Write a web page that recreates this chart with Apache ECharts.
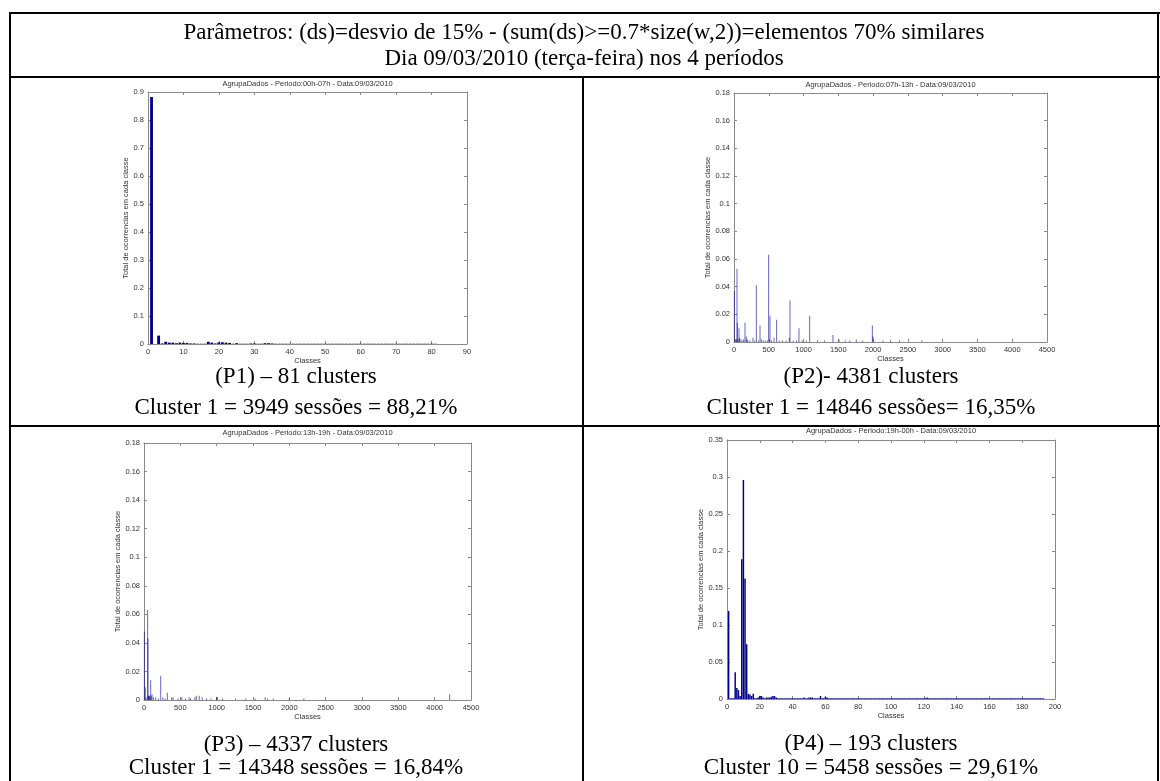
<!DOCTYPE html>
<html>
<head>
<meta charset="utf-8">
<script src="https://cdn.jsdelivr.net/npm/echarts@6/dist/echarts.min.js"></script>
<style>
html,body{margin:0;padding:0;background:#fff;}
#chart{width:1160px;height:781px;}
</style>
</head>
<body>
<div id="chart"></div>
<script>
// ---------- texts ----------
const headerLines = [
  "Parâmetros: (ds)=desvio de 15% - (sum(ds)>=0.7*size(w,2))=elementos 70% similares",
  "Dia 09/03/2010 (terça-feira) nos 4 períodos"
];
const chartTitles = [
  "AgrupaDados - Periodo:00h-07h - Data:09/03/2010",
  "AgrupaDados - Periodo:07h-13h - Data:09/03/2010",
  "AgrupaDados - Periodo:13h-19h - Data:09/03/2010",
  "AgrupaDados - Periodo:19h-00h - Data:09/03/2010"
];
const captionLines1 = ["(P1) – 81 clusters", "(P2)- 4381 clusters", "(P3) – 4337 clusters", "(P4) – 193 clusters"];
const captionLines2 = ["Cluster 1 = 3949 sessões = 88,21%", "Cluster 1 = 14846 sessões= 16,35%", "Cluster 1 = 14348 sessões = 16,84%", "Cluster 10 = 5458 sessões = 29,61%"];
const xAxisName = "Classes";
const yAxisName = "Total de ocorrencias em cada classe";

// ---------- axis ranges ----------
const xMax = [90, 4500, 4500, 200];
const xStep = [10, 500, 500, 20];
const yMax = [0.9, 0.18, 0.18, 0.35];
const yStep = [0.1, 0.02, 0.02, 0.05];

// ---------- data ----------
// P1: share of sessions for classes 1..81
const p1Values = [
  0.882, 0.000, 0.030, 0.002, 0.008, 0.005, 0.005, 0.003, 0.005, 0.004,
  0.004, 0.002, 0.002, 0.001, 0.001, 0.001, 0.008, 0.005, 0.002, 0.006,
  0.006, 0.005, 0.004, 0.001, 0.003, 0.001, 0.001, 0.001, 0.002, 0.002,
  0.001, 0.001, 0.003, 0.003, 0.002, 0.001, 0.001, 0.001, 0.001, 0.001,
  0.001, 0.001, 0.001, 0.001, 0.001, 0.001, 0.001, 0.001, 0.001, 0.001,
  0.001, 0.001, 0.001, 0.001, 0.001, 0.001, 0.001, 0.001, 0.001, 0.001,
  0.001, 0.001, 0.001, 0.001, 0.001, 0.001, 0.001, 0.001, 0.001, 0.001,
  0.001, 0.001, 0.001, 0.001, 0.001, 0.001, 0.001, 0.001, 0.001, 0.001,
  0.001
];
// P2: visible classes [class, share] out of 4381
const p2Classes = [5, 20, 35, 43, 48, 60, 72, 80, 100, 120, 140, 158, 177, 187, 200, 230, 273, 300, 321, 350, 374, 393, 420, 450, 480, 498, 517, 540, 575, 613, 650, 700, 750, 795, 805, 850, 900, 934, 980, 1040, 1088, 1200, 1300, 1423, 1509, 1600, 1663, 1758, 1850, 1989, 1998, 2142, 2250, 2380, 2700];
const p2Values  = [0.037, 0.002, 0.002, 0.053, 0.014, 0.002, 0.010, 0.003, 0.002, 0.001, 0.002, 0.014, 0.004, 0.002, 0.001, 0.001, 0.003, 0.001, 0.041, 0.001, 0.012, 0.002, 0.001, 0.001, 0.001, 0.063, 0.019, 0.001, 0.003, 0.016, 0.001, 0.001, 0.001, 0.003, 0.030, 0.001, 0.001, 0.010, 0.001, 0.001, 0.019, 0.001, 0.001, 0.005, 0.002, 0.001, 0.001, 0.002, 0.001, 0.012, 0.004, 0.001, 0.001, 0.001, 0.001];
// P3: visible classes [class, share] out of 4337
const p3Classes = [5, 18, 30, 50, 55, 62, 68, 75, 82, 92, 100, 110, 130, 160, 200, 230, 260, 290, 321, 380, 400, 470, 520, 570, 620, 640, 700, 720, 760, 800, 860, 920, 1000, 1010, 1080, 1260, 1400, 1530, 1667, 1700, 1780, 2000, 2200, 4206];
const p3Values  = [0.048, 0.009, 0.002, 0.063, 0.043, 0.003, 0.003, 0.003, 0.002, 0.014, 0.003, 0.004, 0.002, 0.002, 0.001, 0.017, 0.002, 0.001, 0.005, 0.002, 0.002, 0.001, 0.002, 0.001, 0.002, 0.001, 0.002, 0.003, 0.003, 0.002, 0.001, 0.001, 0.002, 0.002, 0.001, 0.001, 0.001, 0.001, 0.002, 0.001, 0.001, 0.001, 0.001, 0.004];
// P4: share of sessions for classes 1..193
const p4Values = [
  0.119, 0.001, 0.001, 0.001, 0.036, 0.015, 0.012, 0.004, 0.189, 0.296,
  0.163, 0.074, 0.007, 0.006, 0.004, 0.007, 0.001, 0.001, 0.002, 0.004,
  0.004, 0.002, 0.001, 0.002, 0.002, 0.002, 0.003, 0.004, 0.004, 0.002,
  0.001, 0.001, 0.001, 0.001, 0.001, 0.001, 0.001, 0.001, 0.001, 0.001,
  0.001, 0.001, 0.001, 0.001, 0.001, 0.001, 0.002, 0.001, 0.001, 0.002,
  0.002, 0.002, 0.001, 0.001, 0.001, 0.001, 0.004, 0.001, 0.001, 0.003,
  0.002, 0.001, 0.001, 0.001, 0.001, 0.001, 0.001, 0.001, 0.001, 0.001,
  0.001, 0.001, 0.001, 0.001, 0.001, 0.001, 0.001, 0.001, 0.001, 0.001,
  0.001, 0.001, 0.001, 0.001, 0.001, 0.001, 0.001, 0.001, 0.001, 0.001,
  0.001, 0.001, 0.001, 0.001, 0.001, 0.001, 0.001, 0.001, 0.001, 0.001,
  0.001, 0.001, 0.001, 0.001, 0.001, 0.001, 0.001, 0.001, 0.001, 0.001,
  0.001, 0.001, 0.001, 0.001, 0.001, 0.001, 0.001, 0.001, 0.001, 0.001,
  0.001, 0.002, 0.001, 0.001, 0.001, 0.001, 0.001, 0.001, 0.001, 0.001,
  0.001, 0.001, 0.001, 0.001, 0.001, 0.001, 0.001, 0.001, 0.001, 0.001,
  0.001, 0.001, 0.001, 0.001, 0.001, 0.001, 0.001, 0.001, 0.001, 0.001,
  0.001, 0.001, 0.001, 0.001, 0.001, 0.001, 0.001, 0.001, 0.001, 0.001,
  0.001, 0.001, 0.001, 0.001, 0.001, 0.001, 0.001, 0.001, 0.001, 0.001,
  0.001, 0.001, 0.001, 0.001, 0.001, 0.001, 0.001, 0.001, 0.001, 0.001,
  0.001, 0.001, 0.001, 0.001, 0.001, 0.001, 0.001, 0.001, 0.001, 0.001,
  0.001, 0.001, 0.001
];

// ---------- layout ----------
const grids = [
  {left: 148, top: 92, width: 319, height: 252},
  {left: 734, top: 93, width: 313, height: 249},
  {left: 144, top: 443, width: 327, height: 257},
  {left: 727, top: 440, width: 328, height: 259}
];
const titleY = [84, 85, 433, 431];
const capCenterX = [296, 871, 296, 871];
const cap1Y = [377, 377, 745, 744];
const cap2Y = [408, 408, 768, 768];
const yNameGap = [17, 21, 22, 21];

const BAR = '#00008b';
const AXIS = '#8a8a8a';
const LABEL = '#333';
const SANS = 'Liberation Sans, Arial, sans-serif';
const SERIF = 'Liberation Serif, Times New Roman, serif';
const SERIF_SIZE = 23;

const seriesData = [
  p1Values.map((v, i) => [i + 1, v]),
  p2Classes.map((c, i) => [c, p2Values[i]]),
  p3Classes.map((c, i) => [c, p3Values[i]]),
  p4Values.map((v, i) => [i + 1, v])
];
const barWidths = ['80%', 1, 1, '90%'];
const barOpacity = [1, 0.6, 0.6, 1];

const fmt = v => {
  const r = Math.round(v * 1000) / 1000;
  return String(r);
};

const xAxes = [], yAxes = [], series = [];
grids.forEach((g, i) => {
  xAxes.push({
    type: 'value', gridIndex: i, position: 'bottom', min: 0, max: xMax[i], interval: xStep[i],
    name: xAxisName, nameLocation: 'middle', nameGap: 13,
    nameTextStyle: {fontFamily: SANS, fontSize: 7.5, color: LABEL},
    axisLine: {show: true, onZero: false, lineStyle: {color: AXIS, width: 1}},
    axisTick: {show: true, inside: true, length: 3, lineStyle: {color: AXIS}},
    axisLabel: {fontFamily: SANS, fontSize: 7.5, color: LABEL, margin: 4, formatter: fmt},
    splitLine: {show: false}
  });
  xAxes.push({
    type: 'value', gridIndex: i, position: 'top', min: 0, max: xMax[i], interval: xStep[i],
    axisLine: {show: true, onZero: false, lineStyle: {color: AXIS, width: 1}},
    axisTick: {show: true, inside: true, length: 3, lineStyle: {color: AXIS}},
    axisLabel: {show: false}, splitLine: {show: false}
  });
  yAxes.push({
    type: 'value', gridIndex: i, position: 'left', min: 0, max: yMax[i], interval: yStep[i],
    name: yAxisName, nameLocation: 'middle', nameGap: yNameGap[i], nameRotate: 90,
    nameTextStyle: {fontFamily: SANS, fontSize: 7.5, color: LABEL},
    axisLine: {show: true, onZero: false, lineStyle: {color: AXIS, width: 1}},
    axisTick: {show: true, inside: true, length: 3, lineStyle: {color: AXIS}},
    axisLabel: {fontFamily: SANS, fontSize: 7.5, color: LABEL, margin: 4, formatter: fmt},
    splitLine: {show: false}
  });
  yAxes.push({
    type: 'value', gridIndex: i, position: 'right', min: 0, max: yMax[i], interval: yStep[i],
    axisLine: {show: true, onZero: false, lineStyle: {color: AXIS, width: 1}},
    axisTick: {show: true, inside: true, length: 3, lineStyle: {color: AXIS}},
    axisLabel: {show: false}, splitLine: {show: false}
  });
  series.push({
    type: 'bar', xAxisIndex: 2 * i, yAxisIndex: 2 * i,
    data: seriesData[i], barWidth: barWidths[i], barGap: '-100%',
    itemStyle: {color: BAR, opacity: barOpacity[i]},
    silent: true, animation: false
  });
});

// ---------- graphics: table lines + texts ----------
const LINE = {stroke: '#000', lineWidth: 2};
const graphics = [
  {type: 'line', shape: {x1: 10, y1: 13, x2: 1160, y2: 13}, style: LINE},
  {type: 'line', shape: {x1: 10, y1: 77, x2: 1160, y2: 77}, style: LINE},
  {type: 'line', shape: {x1: 10, y1: 426, x2: 1160, y2: 426}, style: LINE},
  {type: 'line', shape: {x1: 10, y1: 12, x2: 10, y2: 781}, style: LINE},
  {type: 'line', shape: {x1: 1158, y1: 12, x2: 1158, y2: 781}, style: LINE},
  {type: 'line', shape: {x1: 583, y1: 77, x2: 583, y2: 781}, style: LINE}
];
headerLines.forEach((t, i) => {
  graphics.push({type: 'text', x: 584, y: [33, 59][i],
    style: {text: t, font: SERIF_SIZE + 'px ' + SERIF, fill: '#000', textAlign: 'center', textVerticalAlign: 'middle'}});
});
grids.forEach((g, i) => {
  graphics.push({type: 'text', x: g.left + g.width / 2, y: titleY[i],
    style: {text: chartTitles[i], font: '7.5px ' + SANS, fill: LABEL, textAlign: 'center', textVerticalAlign: 'middle'}});
  graphics.push({type: 'text', x: capCenterX[i], y: cap1Y[i],
    style: {text: captionLines1[i], font: SERIF_SIZE + 'px ' + SERIF, fill: '#000', textAlign: 'center', textVerticalAlign: 'middle'}});
  graphics.push({type: 'text', x: capCenterX[i], y: cap2Y[i],
    style: {text: captionLines2[i], font: SERIF_SIZE + 'px ' + SERIF, fill: '#000', textAlign: 'center', textVerticalAlign: 'middle'}});
});

const chart = echarts.init(document.getElementById('chart'), null, {renderer: 'canvas'});
chart.setOption({
  animation: false,
  backgroundColor: '#fff',
  grid: grids.map(g => Object.assign({containLabel: false}, g)),
  xAxis: xAxes,
  yAxis: yAxes,
  series: series,
  graphic: graphics
});
</script>
</body>
</html>
